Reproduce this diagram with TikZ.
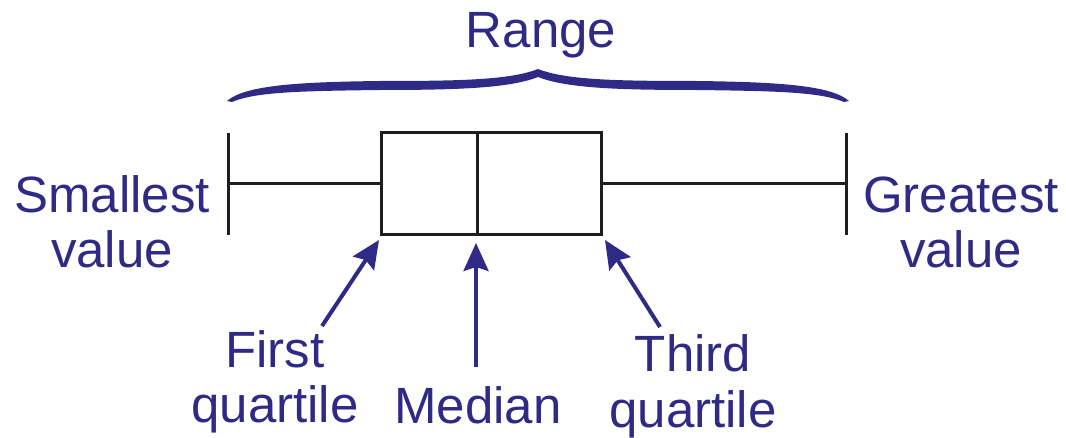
\documentclass[tikz,border=0pt]{standalone}
\usepackage{fontspec}
\setmainfont{Liberation Sans}
\usetikzlibrary{arrows.meta}
\definecolor{labelblue}{RGB}{46,42,134}
\definecolor{plotgray}{RGB}{30,30,30}

\begin{document}
\begin{tikzpicture}[x=1pt,y=-1pt,
    lbl/.style={text=labelblue,font=\fontsize{51}{55}\selectfont,inner sep=0pt,align=center,anchor=base},
    plotline/.style={draw=plotgray,line width=3pt},
    pointer/.style={draw=labelblue,line width=4pt,-{Stealth[length=28pt,width=25pt,inset=4pt]}}]
  \useasboundingbox (0,0) rectangle (1066,438);
  % Draw the box with the median line
  \node[plotline,minimum width=220pt,minimum height=102pt,inner sep=0pt] (box) at (491,184) {};
  \coordinate (medtop) at (477,133);
  \coordinate (medbot) at (477,235);
  \draw[plotline] (medtop) -- (medbot);
  % Draw the whiskers and the end bars
  \coordinate (minv) at (228,184);
  \coordinate (maxv) at (846,184);
  \draw[plotline] (minv) -- (box.west);
  \draw[plotline] (box.east) -- (maxv);
  \draw[plotline] (228,133) -- (228,235);
  \draw[plotline] (846,133) -- (846,235);
  % Draw the brace, one half and its mirror image
  \foreach \s in {1,-1}{
  \begin{scope}[xshift=538pt,xscale=\s]
    \fill[labelblue] (-311,101) .. controls (-293,85) and (-238,82) .. (-158,81)
      .. controls (-78,81) and (-28,80) .. (0,69) -- (0,77)
      .. controls (-28,88) and (-78,90) .. (-158,90)
      .. controls (-238,91) and (-283,92) .. (-306,102) -- cycle;
  \end{scope}
  }
  % Labels (base is the baseline of the last line)
  \node[lbl] (range) at (541,48) {Range};
  \node[lbl] (smallest) at (112,268) {Smallest\\value};
  \node[lbl] (greatest) at (961,268) {Greatest\\value};
  \node[lbl] (firstq) at (275,422) {First\\quartile};
  \node[lbl] (median) at (478,423) {Median};
  \node[lbl] (thirdq) at (693,427) {Third\\quartile};
  % Draw the arrows pointing at the box
  \coordinate (q1tail) at (322,326);
  \coordinate (q1tip) at (379,240);
  \coordinate (medtail) at (476,367);
  \coordinate (medtip) at (476,243);
  \coordinate (q3tail) at (660,327);
  \coordinate (q3tip) at (605,240);
  \foreach \tail/\tip in {q1tail/q1tip,medtail/medtip,q3tail/q3tip}{
    \draw[pointer] (\tail) -- (\tip);
  }
\end{tikzpicture}
\end{document}
